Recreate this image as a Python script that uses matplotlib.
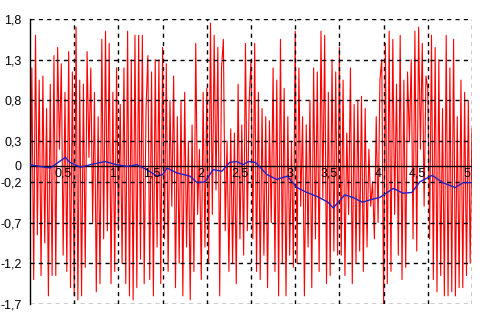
import numpy as np
import matplotlib
matplotlib.use('Agg')
import matplotlib.pyplot as plt

plt.rcParams['font.family'] = ['Liberation Sans', 'DejaVu Sans']

# noisy signal (red) (0.5 wide each)
red = [-1.0, 1.2, -1.4, 1.6, -0.85, 1.05, -1.35, 1.1, -0.95, 0.7, -1.6, 1.0,
       -1.35, 1.35, -1.35, 1.45, 0.2, 1.25, -1.1, 0.9, -1.3, 1.4, -1.5, 1.15,
       -1.6, 1.7, -1.65, 1.05, -1.6, 1.0, -1.25, 1.4, 0.1, 1.2, -0.7, 0.9,
       -1.55, 0.6, -1.45, 1.55, -0.9, 1.65, -0.8, 1.5, -1.45, 0.9, -1.3, 1.2,
       -0.8, 0.75, -1.2, 1.2, -1.45, 1.65, -1.6, 1.3, -1.65, 1.6, -1.5, 1.6,
       -1.15, 1.6, -1.45, 0.7, 1.35, -1.4, 1.15, -1.6, 1.3, -1.0, 1.3, -1.45,
       1.45, -0.9, 1.25, -1.3, 0.8, -0.5, 1.1, -1.5, 0.6, -1.2, 0.8, -1.6,
       0.9, -1.0, 0.3, -1.65, 0.5, -1.3, 1.5, -0.6, 0.2, -1.4, 0.9, -1.0,
       0.95, -1.2, 1.75, -0.6, 1.6, -0.3, 1.45, -1.6, 1.2, 1.55, -0.8, 0.3,
       -1.3, 0.45, -1.2, 0.4, -1.45, 1.0, -0.9, 0.5, -1.1, 1.5, -0.8, 0.8,
       1.3, -0.9, 1.5, -1.3, 0.9, -1.4, 0.7, -1.1, 0.6, -1.5, 0.55, -0.7,
       1.2, -1.3, 1.05, -1.6, 1.55, -1.2, 0.95, -1.6, 0.6, -1.1, 0.3, -1.25,
       1.65, -1.2, 1.2, -0.5, 0.6, -1.6, 0.5, -1.0, 0.8, -1.5, 1.2, -0.9,
       1.15, -1.3, 1.65, -0.4, 1.6, -1.45, 0.9, -1.35, 1.3, -1.05, 1.15, -1.1,
       1.45, -1.1, 1.05, -1.35, 0.4, -0.6, 1.2, -1.45, 0.75, -1.2, 0.8, -1.05,
       0.85, -1.3, 0.7, -1.0, 0.2, -0.5, -0.2, -0.9, 0.6, -0.7, 1.05, 1.3,
       -1.7, 1.5, -1.45, 1.65, -1.3, 1.55, -0.6, 1.0, -1.1, 1.6, -1.4, 1.05,
       -1.25, 1.15, 0.3, 1.3, -0.9, 1.65, -1.05, 1.7, 0.2, 1.5, -0.5, 1.1,
       0.95, -0.9, 1.6, -1.4, 1.45, -1.55, 1.3, -1.35, 0.7, -1.6, 1.6, -1.6,
       1.2, -1.55, 1.55, -1.6, 0.6, -1.5, 1.05, -1.5, 0.9, -1.35, 0.8, -1.2, 0.45]

# smoothed signal (blue)
blue_x = [0, 0.11, 0.23, 0.32, 0.40, 0.45, 0.57, 0.68, 0.85, 0.98, 1.10, 1.21,
          1.32, 1.44, 1.50, 1.55, 1.66, 1.81, 1.89, 1.98, 2.07, 2.17, 2.26,
          2.34, 2.41, 2.47, 2.55, 2.68, 2.79, 2.91, 3.02, 3.13, 3.25, 3.37,
          3.43, 3.56, 3.65, 3.76, 3.85, 3.96, 4.11, 4.22, 4.32, 4.41, 4.55,
          4.67, 4.81, 4.90, 5.0]
blue_y = [0.01, -0.01, -0.03, 0.04, 0.1, 0.04, -0.02, 0.01, 0.05, 0.01, -0.01,
          0.01, -0.05, -0.13, -0.11, -0.03, -0.09, -0.13, -0.21, -0.2, -0.05,
          -0.07, 0.04, 0.05, 0.01, 0.05, 0.04, -0.11, -0.17, -0.13, -0.27,
          -0.33, -0.38, -0.45, -0.52, -0.36, -0.39, -0.45, -0.42, -0.39, -0.28,
          -0.34, -0.33, -0.2, -0.12, -0.21, -0.27, -0.21, -0.21]

yticks = [1.8, 1.3, 0.8, 0.3, 0, -0.2, -0.7, -1.2, -1.7]
xticks = [0.5, 1, 1.5, 2, 2.5, 3, 3.5, 4, 4.5, 5]

def fmt(v):
    return ('%g' % v).replace('.', ',')

fig = plt.figure(figsize=(5.02, 3.25), dpi=100)
ax = fig.add_axes([30 / 502, 1 - 304 / 325, 442 / 502, 285 / 325])

red_x = np.linspace(0, 5, len(red))
ax.plot(red_x, red, color='#ff0000', lw=0.8, zorder=2)
ax.plot(blue_x, blue_y, color='#2020c0', lw=1, zorder=4)

dash = dict(color='black', lw=1, ls=(0, (3, 3)), zorder=3)
for y in yticks:
    if y == 0:
        ax.axhline(0, color='black', lw=1, zorder=3)
    else:
        ax.axhline(y, **dash)
for x in xticks:
    ax.axvline(x, **dash)
    ax.annotate(fmt(x), (x, 0), xytext=(-1.5, -1.5), textcoords='offset points',
                ha='right', va='top', fontsize=9, zorder=5)

ax.set_xlim(0, 5)
ax.set_ylim(-1.7, 1.8)
ax.set_xticks([])
ax.set_yticks(yticks)
ax.set_yticklabels([fmt(v) for v in yticks], fontsize=9)
ax.tick_params(axis='y', length=0, pad=6)
for s in ['top', 'right', 'bottom']:
    ax.spines[s].set_visible(False)
ax.spines['left'].set_linewidth(1)

fig.savefig('out.png', dpi=100)
